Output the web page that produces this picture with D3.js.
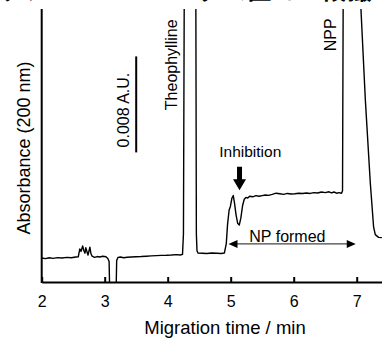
<!DOCTYPE html>
<html>
<head>
<meta charset="utf-8">
<script src="https://cdn.jsdelivr.net/npm/d3@7"></script>
<style>
  html, body { margin: 0; padding: 0; background: #fff; }
  svg { display: block; font-family: "Liberation Sans", Arial, sans-serif; }
</style>
</head>
<body>
<svg id="chart" width="382" height="340"></svg>
<script>
// electropherogram trace: migration time (min) vs absorbance (mAU, baseline = 0)
const times = [
  2.00, 2.06, 2.12, 2.18, 2.25, 2.32, 2.40, 2.47, 2.54, 2.58,
  2.605, 2.625, 2.65, 2.67, 2.687, 2.70, 2.72, 2.735, 2.765, 2.78,
  2.80, 2.84, 2.88, 2.92, 2.97, 3.02, 3.05, 3.07, 3.08, 3.18,
  3.19, 3.21, 3.25, 3.30, 3.36, 3.42, 3.50, 3.58, 3.66, 3.74,
  3.82, 3.90, 3.98, 4.06, 4.14, 4.20, 4.235, 4.25, 4.262, 4.35,
  4.447, 4.455, 4.465, 4.48, 4.55, 4.62, 4.70, 4.78, 4.85, 4.90,
  4.93, 4.95, 4.975, 4.995, 5.02, 5.041, 5.06, 5.085, 5.11, 5.136,
  5.16, 5.19, 5.215, 5.242, 5.27, 5.30, 5.35, 5.40, 5.45, 5.50,
  5.55, 5.60, 5.66, 5.72, 5.78, 5.84, 5.90, 5.96, 6.02, 6.08,
  6.14, 6.20, 6.26, 6.32, 6.38, 6.44, 6.50, 6.56, 6.60, 6.64,
  6.68, 6.72, 6.76, 6.775, 6.785, 6.90, 7.065, 7.137, 7.216, 7.268,
  7.295, 7.347, 7.40
];
const absorbance = [
  0.00, -0.05, 0.02, -0.03, 0.03, 0.00, 0.05, 0.02, 0.08, 0.10,
  0.75, 0.55, 1.00, 0.60, 0.40, 0.85, 0.50, 0.25, 0.90, 0.40,
  0.15, 0.05, 0.12, 0.08, 0.15, 0.10, -0.05, -0.30, -3.0, -3.0,
  -0.20, 0.05, 0.08, 0.02, 0.06, 0.08, 0.10, 0.12, 0.15, 0.18,
  0.20, 0.22, 0.23, 0.25, 0.28, 0.25, 0.30, 2.0, 21, 80,
  21, 2.0, 0.60, 0.42, 0.40, 0.38, 0.42, 0.40, 0.38, 0.42,
  1.2, 2.8, 4.0, 4.3, 5.0, 5.2, 4.6, 3.6, 2.9, 2.75,
  3.3, 4.4, 4.9, 5.05, 5.0, 5.15, 5.1, 5.2, 5.15, 5.2,
  5.25, 5.22, 5.3, 5.4, 5.35, 5.3, 5.38, 5.33, 5.35, 5.4,
  5.37, 5.42, 5.38, 5.45, 5.42, 5.5, 5.45, 5.52, 5.42, 5.5,
  5.4, 5.45, 5.4, 5.6, 21, 80, 21, 13.2, 6.25, 2.6,
  1.95, 1.72, 1.70
];
const xTicks = [2, 3, 4, 5, 6, 7];

const svg = d3.select("#chart");
const W = 382, H = 340;
const plotTop = 9, plotBottom = 282;

const x = d3.scaleLinear().domain([2, 7.4]).range([41.7, 381.9]);
const y = d3.scaleLinear().domain([-2, 20.75]).range([plotBottom, plotTop]);

// caption line above the figure, cut off by the crop
svg.append("text")
  .attr("x", -2).attr("y", -1)
  .attr("font-family", "'Noto Sans CJK JP', sans-serif")
  .attr("font-weight", "bold")
  .attr("font-size", 24)
  .attr("letter-spacing", 1)
  .text("ッフトロンエロングム区で一段撮");

svg.append("clipPath").attr("id", "plot")
  .append("rect")
  .attr("x", x(2)).attr("y", plotTop)
  .attr("width", W - x(2)).attr("height", plotBottom - plotTop);

const line = d3.line()
  .x((d, i) => x(times[i]))
  .y(d => y(d));

svg.append("path")
  .datum(absorbance)
  .attr("clip-path", "url(#plot)")
  .attr("fill", "none")
  .attr("stroke", "#000")
  .attr("stroke-width", 1.4)
  .attr("stroke-linejoin", "round")
  .attr("d", line);

// axes
const xAxis = d3.axisBottom(x)
  .tickValues(xTicks)
  .tickFormat(d3.format("d"))
  .tickSizeInner(-5)
  .tickSizeOuter(0)
  .tickPadding(14);

const gx = svg.append("g")
  .attr("transform", `translate(0,${plotBottom})`)
  .call(xAxis);
gx.select(".domain").attr("stroke-width", 2);
gx.selectAll(".tick line").attr("stroke-width", 2);
gx.selectAll(".tick text")
  .attr("font-family", "'Liberation Sans', Arial, sans-serif")
  .attr("font-size", 16)
  .attr("fill", "#000");

svg.append("line")
  .attr("x1", x(2)).attr("x2", x(2))
  .attr("y1", plotTop).attr("y2", plotBottom + 1)
  .attr("stroke", "#000").attr("stroke-width", 2);

svg.append("text")
  .attr("x", 225).attr("y", 334)
  .attr("text-anchor", "middle")
  .attr("font-size", 18.5)
  .text("Migration time / min");

svg.append("text")
  .attr("transform", "translate(30,148) rotate(-90)")
  .attr("text-anchor", "middle")
  .attr("font-size", 18)
  .text("Absorbance (200 nm)");

// scale bar 0.008 A.U. (= 8 mAU)
svg.append("line")
  .attr("x1", x(3.5)).attr("x2", x(3.5))
  .attr("y1", y(16.8)).attr("y2", y(8.8))
  .attr("stroke", "#000").attr("stroke-width", 2);

function vlabel(t, a, txt) {
  svg.append("text")
    .attr("transform", `translate(${x(t)},${y(a)}) rotate(-90)`)
    .attr("text-anchor", "middle")
    .attr("dy", "0.35em")
    .attr("font-size", 16)
    .text(txt);
}
vlabel(3.29, 12.33, "0.008 A.U.");
vlabel(4.06, 16.1, "Theophylline");
vlabel(6.58, 18.6, "NPP");

// Inhibition arrow
svg.append("text")
  .attr("x", x(5.31)).attr("y", y(8.83))
  .attr("dy", "0.35em")
  .attr("text-anchor", "middle")
  .attr("font-size", 15.5)
  .text("Inhibition");

const ax = x(5.14), ay0 = y(7.6), ay1 = y(5.65);
svg.append("path")
  .attr("d", `M${ax - 2.5},${ay0}H${ax + 2.5}V${ay1 - 11}H${ax + 6.5}L${ax},${ay1}L${ax - 6.5},${ay1 - 11}H${ax - 2.5}Z`)
  .attr("fill", "#000");

// NP formed double arrow
const nx0 = x(4.965), nx1 = x(6.985), ny = y(1.17);
svg.append("line")
  .attr("x1", nx0 + 6).attr("x2", nx1 - 6)
  .attr("y1", ny).attr("y2", ny)
  .attr("stroke", "#444").attr("stroke-width", 1.2);
svg.append("path")
  .attr("d", `M${nx0},${ny}L${nx0 + 9},${ny - 4}V${ny + 4}Z M${nx1},${ny}L${nx1 - 9},${ny - 4}V${ny + 4}Z`)
  .attr("fill", "#000");

svg.append("text")
  .attr("x", x(5.9)).attr("y", y(1.83))
  .attr("dy", "0.35em")
  .attr("text-anchor", "middle")
  .attr("font-size", 16)
  .text("NP formed");
</script>
</body>
</html>
